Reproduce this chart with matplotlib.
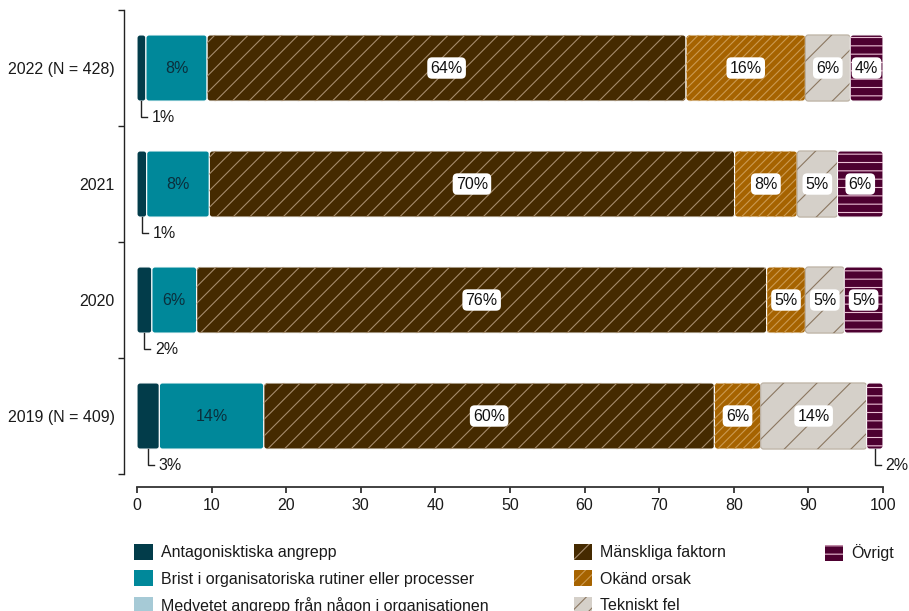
import numpy as np
import matplotlib.pyplot as plt
import matplotlib.patches as mpatches
from matplotlib.patches import FancyBboxPatch

plt.rcParams['font.family'] = ['Liberation Sans', 'DejaVu Sans']
plt.rcParams['hatch.linewidth'] = 0.8

years = ['2022 (N = 428)', '2021', '2020', '2019 (N = 409)']
categories = ['Antagonisktiska angrepp',
              'Brist i organisatoriska rutiner eller processer',
              'Medvetet angrepp från någon i organisationen',
              'Mänskliga faktorn', 'Okänd orsak', 'Tekniskt fel', 'Övrigt']

# andel (%) per år, samma ordning som years
antag = [1.2, 1.3, 2.0, 3.0]
brist = [8.2, 8.4, 6.0, 14.0]
medvetet = [0, 0, 0, 0]
manskliga = [64.2, 70.4, 76.4, 60.4]
okand = [16.0, 8.4, 5.2, 6.2]
tekniskt = [6.0, 5.4, 5.2, 14.2]
ovrigt = [4.4, 6.1, 5.2, 2.2]
series = [antag, brist, medvetet, manskliga, okand, tekniskt, ovrigt]

colors = ['#023C4A', '#00889A', '#A6CAD6', '#452A00', '#A66300', '#D5D0C9', '#4D0030']
hatches = [None, None, None, '//', '////', '/', '--']
legend_hatches = [None, None, None, '/', '///', '//', '--']
hatch_colors = [None, None, None, '#A58B6B', '#CB9A52', '#8B7760', '#EBC0D5']
label_style = ['leader', 'plain', 'none', 'box', 'box', 'box', 'box']
FS = 11.5

fig = plt.figure(figsize=(9.09, 6.11), dpi=100)
ax = fig.add_axes([0.1507, 0.2242, 0.8207, 0.7594])

ypos = np.arange(len(years))[::-1]
bar_h = 0.57
left = np.zeros(len(years))

def rounded(x, y, w, h, **kw):
    p = FancyBboxPatch((x, y), w, h, boxstyle='round,pad=0,rounding_size=0.4',
                       mutation_aspect=0.064, **kw)
    ax.add_patch(p)
    return p

def leader(x, yb, txt):
    ax.plot([x, x, x + 0.8], [yb, yb - 0.14, yb - 0.14], color='#222222', lw=1,
            clip_on=False, solid_joinstyle='miter')
    ax.text(x + 1.4, yb - 0.14, txt, ha='left', va='center', fontsize=FS,
            color='#1a1a1a', clip_on=False)

for i, vals in enumerate(series):
    vals = np.array(vals, dtype=float)
    bars = ax.barh(ypos, vals, left=left, height=bar_h, color=colors[i])
    for j, rect in enumerate(bars):
        rect.set_visible(False)
        x, y, w, h = rect.get_x(), rect.get_y(), rect.get_width(), rect.get_height()
        if w <= 0:
            continue
        ec = '#B9AE9F' if categories[i] == 'Tekniskt fel' else 'white'
        rounded(x, y, w, h, facecolor=colors[i], edgecolor=ec, linewidth=0.8)
        if hatches[i]:
            rounded(x, y, w, h, facecolor='none', edgecolor=hatch_colors[i],
                    linewidth=0, hatch=hatches[i])
        txt = f'{round(vals[j])}%'
        cx = x + w / 2
        style = label_style[i]
        if style == 'leader' or (style == 'box' and w < 3.5):
            leader(cx, y, txt)
        elif style == 'plain':
            ax.text(cx, ypos[j], txt, ha='center', va='center', fontsize=FS,
                    color='#0B2F3C')
        elif style == 'box':
            ax.text(cx, ypos[j], txt, ha='center', va='center', fontsize=FS,
                    color='#111111',
                    bbox=dict(boxstyle='round,pad=0.2,rounding_size=0.3',
                              fc='white', ec='none'))
    left += vals

ax.set_xlim(0, 100)
ax.set_ylim(-0.5, 3.5)
ax.set_xticks(np.arange(0, 101, 10))
ax.set_yticks(ypos)
ax.set_yticklabels(years)
ax.set_yticks(np.arange(-0.5, 3.6, 1), minor=True)
ax.tick_params(axis='y', which='major', length=0, pad=7, labelsize=FS, labelcolor='#1a1a1a')
ax.tick_params(axis='y', which='minor', length=4, width=1, color='#222222')
ax.tick_params(axis='x', length=4, width=1.3, color='#333333', pad=4,
               labelsize=FS, labelcolor='#1a1a1a')

for s in ['top', 'right']:
    ax.spines[s].set_visible(False)
ax.spines['left'].set_position(('outward', 9))
ax.spines['left'].set_color('#222222')
ax.spines['left'].set_linewidth(1)
ax.spines['bottom'].set_position(('outward', 9))
ax.spines['bottom'].set_color('#333333')
ax.spines['bottom'].set_linewidth(1.3)

handles = []
for i, name in enumerate(categories):
    if legend_hatches[i]:
        handles.append(mpatches.Patch(facecolor=colors[i], edgecolor=hatch_colors[i],
                                      linewidth=0, hatch=legend_hatches[i], label=name))
    else:
        handles.append(mpatches.Patch(facecolor=colors[i], edgecolor=colors[i],
                                      linewidth=0, label=name))

columns = [(handles[0:3], 0.1507), (handles[3:6], 0.6345), (handles[6:], 0.9105)]
for hs, xa in columns:
    leg = fig.legend(handles=hs, loc='upper left', bbox_to_anchor=(xa - 0.003, 0.1095),
                     frameon=False, ncol=1, fontsize=FS, handlelength=1.15,
                     handleheight=1.15, handletextpad=0.5, labelspacing=0.62,
                     borderpad=0, borderaxespad=0)
    for t in leg.get_texts():
        t.set_color('#1a1a1a')

fig.savefig('out.png', dpi=100)
